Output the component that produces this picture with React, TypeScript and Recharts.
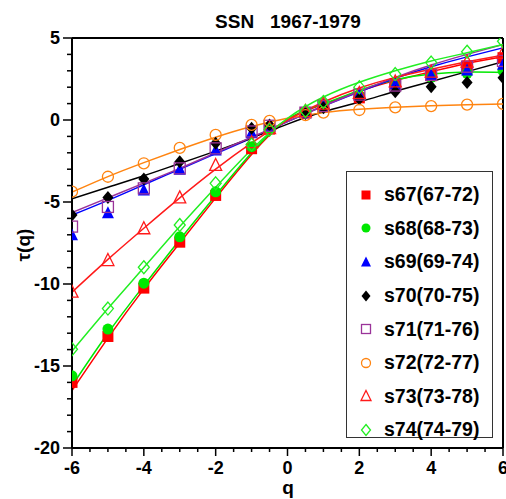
import {
    ComposedChart,
    Line,
    Scatter,
    XAxis,
    YAxis,
    ReferenceLine,
    Legend,
    Label,
} from "recharts";

// q grid of the measured points and of the fitted curves
const qPoints = [-6, -5, -4, -3, -2, -1, -0.5, 0.5, 1, 2, 3, 4, 5, 6];
const qFit = [-6, -5, -4, -3, -2, -1, 0, 1, 2, 3, 4, 5, 6];

// measured tau(q)
const s67 = [-16.0, -13.2, -10.25, -7.45, -4.6, -1.75, -0.55, 0.45, 0.9, 1.35, 2.2, 2.7, 3.3, 3.8];
const s68 = [-15.6, -12.75, -9.95, -7.12, -4.38, -1.63, -0.5, 0.5, 0.95, 1.5, 2.15, 2.6, 2.85, 3.0];
const s69 = [-7.0, -5.65, -4.27, -3.0, -1.83, -0.78, -0.4, 0.45, 0.9, 1.6, 2.2, 2.75, 3.05, 3.4];
const s70 = [-5.8, -4.72, -3.6, -2.54, -1.42, -0.5, -0.3, 0.4, 0.75, 1.3, 1.73, 2.03, 2.28, 2.58];
const s71 = [-6.5, -5.3, -4.17, -2.95, -1.73, -0.7, -0.35, 0.45, 0.85, 1.55, 2.1, 2.75, 3.25, 3.6];
const s72 = [-4.37, -3.46, -2.64, -1.7, -0.91, -0.3, -0.05, 0.3, 0.45, 0.61, 0.77, 0.85, 0.94, 0.98];
const s73 = [-10.47, -8.54, -6.6, -4.72, -2.74, -1.35, -0.5, 0.55, 1.0, 1.65, 2.35, 2.95, 3.56, 4.1];
const s74 = [-13.98, -11.5, -8.98, -6.4, -3.86, -1.5, -0.6, 0.55, 1.1, 2.0, 2.8, 3.5, 4.16, 4.8];

// fitted curves
const f67 = [-16.5, -13.3, -10.3, -7.5, -4.75, -2.1, 0.0, 0.95, 1.75, 2.4, 2.95, 3.45, 3.85];
const f68 = [-16.2, -13.0, -10.1, -7.3, -4.6, -2.0, 0.05, 1.0, 1.8, 2.45, 2.8, 2.92, 2.9];
const f69 = [-5.8, -4.9, -3.95, -3.0, -2.05, -1.1, -0.1, 0.85, 1.72, 2.55, 3.25, 3.85, 4.4];
const f70 = [-4.8, -4.1, -3.4, -2.65, -1.9, -1.1, -0.25, 0.5, 1.1, 1.75, 2.35, 2.95, 3.55];
const f71 = [-5.65, -4.75, -3.85, -2.95, -2.0, -1.05, -0.1, 0.85, 1.75, 2.6, 3.35, 4.0, 4.6];
const f72 = [-4.4, -3.45, -2.6, -1.8, -1.05, -0.4, 0.1, 0.45, 0.65, 0.78, 0.87, 0.93, 0.97];
const f73 = [-10.5, -8.5, -6.6, -4.75, -3.0, -1.4, 0.0, 1.1, 1.95, 2.6, 3.1, 3.55, 3.95];
const f74 = [-14.1, -11.5, -9.0, -6.5, -4.1, -1.8, 0.1, 1.4, 2.3, 3.0, 3.6, 4.1, 4.6];

const xTicks = [-6, -5.5, -5, -4.5, -4, -3.5, -3, -2.5, -2, -1.5, -1, -0.5, 0, 0.5, 1, 1.5, 2, 2.5, 3, 3.5, 4, 4.5, 5, 5.5, 6];
const yTicks = [-20, -19, -18, -17, -16, -15, -14, -13, -12, -11, -10, -9, -8, -7, -6, -5, -4, -3, -2, -1, 0, 1, 2, 3, 4, 5];

type Kind = "square" | "circle" | "triangle" | "diamond";

const SERIES: { key: string; name: string; pts: number[]; fit: number[]; color: string; kind: Kind; filled: boolean }[] = [
    { key: "s67", name: "s67(67-72)", pts: s67, fit: f67, color: "#ff0000", kind: "square", filled: true },
    { key: "s68", name: "s68(68-73)", pts: s68, fit: f68, color: "#00e800", kind: "circle", filled: true },
    { key: "s69", name: "s69(69-74)", pts: s69, fit: f69, color: "#0000ff", kind: "triangle", filled: true },
    { key: "s70", name: "s70(70-75)", pts: s70, fit: f70, color: "#000000", kind: "diamond", filled: true },
    { key: "s71", name: "s71(71-76)", pts: s71, fit: f71, color: "#9a3399", kind: "square", filled: false },
    { key: "s72", name: "s72(72-77)", pts: s72, fit: f72, color: "#ff8410", kind: "circle", filled: false },
    { key: "s73", name: "s73(73-78)", pts: s73, fit: f73, color: "#ff1a1a", kind: "triangle", filled: false },
    { key: "s74", name: "s74(74-79)", pts: s74, fit: f74, color: "#22ee22", kind: "diamond", filled: false },
];

const fitData = qFit.map((q, i) => {
    const row: Record<string, number> = { q };
    SERIES.forEach((s) => {
        row[s.key] = s.fit[i];
    });
    return row;
});

const FONT = "'Liberation Sans', Arial, sans-serif";

const Marker = ({ cx, cy, kind, color, filled, size }: { cx: number; cy: number; kind: Kind; color: string; filled: boolean; size: number }) => {
    const h = size / 2;
    const fill = filled ? color : "none";
    const sw = filled ? 0 : 1.3;
    if (kind === "square") {
        return <rect x={cx - h} y={cy - h} width={size} height={size} fill={fill} stroke={color} strokeWidth={sw} />;
    }
    if (kind === "circle") {
        return <circle cx={cx} cy={cy} r={h} fill={fill} stroke={color} strokeWidth={sw} />;
    }
    if (kind === "triangle") {
        const pts = `${cx},${cy - h - 1} ${cx + h + 0.5},${cy + h} ${cx - h - 0.5},${cy + h}`;
        return <polygon points={pts} fill={fill} stroke={color} strokeWidth={sw} />;
    }
    const pts = `${cx},${cy - h - 1} ${cx + h},${cy} ${cx},${cy + h + 1} ${cx - h},${cy}`;
    return <polygon points={pts} fill={fill} stroke={color} strokeWidth={sw} />;
};

const XTick = (props: any) => {
    const { x, y, payload } = props;
    const v = payload.value;
    const major = v % 2 === 0;
    return (
        <g>
            <line x1={x} y1={y} x2={x} y2={y + (major ? 8 : 4)} stroke="#000" strokeWidth={1.5} />
            {major && (
                <text x={x} y={y + 26} textAnchor="middle" fontFamily={FONT} fontWeight="bold" fontSize={18} fill="#000">
                    {v}
                </text>
            )}
        </g>
    );
};

const YTick = (props: any) => {
    const { x, y, payload } = props;
    const v = payload.value;
    const major = v % 5 === 0;
    return (
        <g>
            <line x1={x} y1={y} x2={x - (major ? 9 : 5)} y2={y} stroke="#000" strokeWidth={1.5} />
            {major && (
                <text x={x - 12} y={y + 6} textAnchor="end" fontFamily={FONT} fontWeight="bold" fontSize={18} fill="#000">
                    {v}
                </text>
            )}
        </g>
    );
};

const LegendBox = () => (
    <div
        style={{
            border: "1.5px solid #333",
            background: "#fff",
            width: 147,
            height: 267,
            boxSizing: "border-box",
            paddingTop: 6,
            fontFamily: FONT,
        }}
    >
        {SERIES.map((s) => (
            <div key={s.key} style={{ display: "flex", alignItems: "center", height: 33.6 }}>
                <svg width={37} height={20} style={{ flex: "none" }}>
                    <Marker cx={19} cy={10} kind={s.kind} color={s.color} filled={s.filled} size={9} />
                </svg>
                <span style={{ fontWeight: "bold", fontSize: 19.5, color: "#000" }}>{s.name}</span>
            </div>
        ))}
    </div>
);

export default function App() {
    return (
        <div style={{ position: "absolute", left: 0, top: 0, background: "#fff" }}>
            <ComposedChart width={506} height={499} data={fitData} margin={{ top: 38, right: 3, left: 0, bottom: 0 }}>
                <XAxis
                    dataKey="q"
                    type="number"
                    domain={[-6, 6]}
                    ticks={xTicks}
                    interval={0}
                    allowDataOverflow
                    height={51}
                    tickSize={0}
                    tickMargin={0}
                    tickLine={false}
                    tick={<XTick />}
                    axisLine={{ stroke: "#000", strokeWidth: 2 }}
                >
                    <Label
                        content={() => (
                            <text x={288} y={494} textAnchor="middle" fontFamily={FONT} fontWeight="bold" fontSize={19} fill="#000">
                                q
                            </text>
                        )}
                    />
                </XAxis>
                <YAxis
                    type="number"
                    domain={[-20, 5]}
                    ticks={yTicks}
                    interval={0}
                    allowDataOverflow
                    width={72}
                    tickSize={0}
                    tickMargin={0}
                    tickLine={false}
                    tick={<YTick />}
                    axisLine={{ stroke: "#000", strokeWidth: 2 }}
                >
                    <Label
                        content={() => (
                            <text
                                x={23}
                                y={245}
                                transform="rotate(-90 23 245)"
                                textAnchor="middle"
                                dominantBaseline="central"
                                fontFamily={FONT}
                                fontWeight="bold"
                                fontSize={19}
                                fill="#000"
                            >
                                τ(q)
                            </text>
                        )}
                    />
                </YAxis>
                <ReferenceLine y={5} stroke="#000" strokeWidth={2}>
                    <Label
                        content={() => (
                            <text x={288} y={28} textAnchor="middle" fontFamily={FONT} fontWeight="bold" fontSize={19} fill="#000" style={{ whiteSpace: "pre" }}>
                                {"SSN   1967-1979"}
                            </text>
                        )}
                    />
                </ReferenceLine>
                <ReferenceLine x={6} stroke="#000" strokeWidth={2} />

                {SERIES.map((s) => (
                    <Line
                        key={`fit-${s.key}`}
                        type="natural"
                        dataKey={s.key}
                        stroke={s.color}
                        strokeWidth={1.5}
                        dot={false}
                        activeDot={false}
                        legendType="none"
                        isAnimationActive={false}
                    />
                ))}
                {SERIES.map((s) => (
                    <Scatter
                        key={`pts-${s.key}`}
                        name={s.name}
                        data={qPoints.map((q, i) => ({ q, v: s.pts[i] }))}
                        dataKey="v"
                        isAnimationActive={false}
                        shape={(p: any) => <Marker cx={p.cx} cy={p.cy} kind={s.kind} color={s.color} filled={s.filled} size={11} />}
                    />
                ))}

                <Legend
                    layout="vertical"
                    align="center"
                    verticalAlign="middle"
                    content={() => <LegendBox />}
                    wrapperStyle={{ left: 346, top: 171, width: 147, height: 267 }}
                />
            </ComposedChart>
        </div>
    );
}
